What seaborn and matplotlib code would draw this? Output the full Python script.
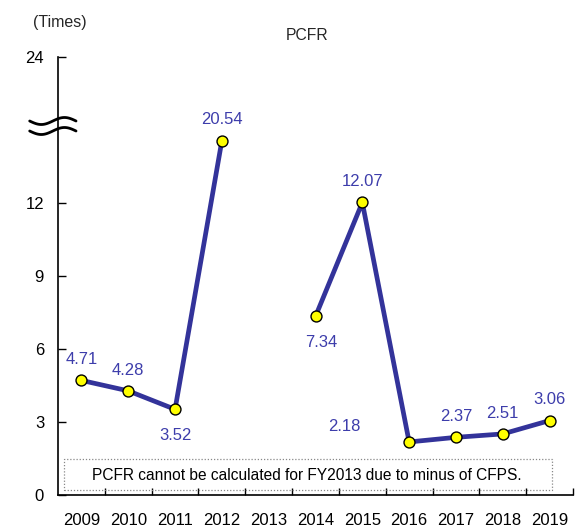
import numpy as np
import pandas as pd
import matplotlib
matplotlib.use("Agg")
import matplotlib.pyplot as plt
import seaborn as sns

years = ["2009", "2010", "2011", "2012", "2013", "2014", "2015", "2016", "2017", "2018", "2019"]
pcfr = [4.71, 4.28, 3.52, 20.54, np.nan, 7.34, 12.07, 2.18, 2.37, 2.51, 3.06]
y_ticks = [0, 3, 6, 9, 12, 24]
note = "PCFR cannot be calculated for FY2013 due to minus of CFPS."

# label offsets in points (dx, dy)
label_offsets = {
    "2009": (0, 15), "2010": (0, 15), "2011": (0, -19), "2012": (0, 15),
    "2014": (4, -19), "2015": (0, 15), "2016": (-47, 11), "2017": (0, 15),
    "2018": (0, 15), "2019": (0, 15),
}

sns.set_theme(style="white")
plt.rcParams["font.family"] = ["Liberation Sans", "DejaVu Sans"]

LINE = "#33339a"
TEXT = "#3d3dab"

# compressed upper segment of the value axis (broken axis above 12)
knots_real = [0, 12, 22, 24]
knots_disp = [0, 12, 15, 18]

def fwd(v):
    return np.interp(np.asarray(v, dtype=float), knots_real, knots_disp)

def inv(d):
    return np.interp(np.asarray(d, dtype=float), knots_disp, knots_real)

df = pd.DataFrame({"year": years, "pos": np.arange(len(years)), "val": pcfr})
df["seg"] = np.cumsum(df["val"].isna().astype(int)).astype(str)
valid = df.dropna()

fig = plt.figure(figsize=(5.75, 5.3), dpi=100)
ax = fig.add_axes([58 / 575, 1 - 495 / 530, (573 - 58) / 575, (495 - 57) / 530])
ax.set_yscale("function", functions=(fwd, inv))

sns.lineplot(data=valid, x="pos", y="val", hue="seg", palette=[LINE] * valid["seg"].nunique(),
             linewidth=3.4, legend=False, ax=ax, estimator=None, sort=False)
sns.scatterplot(data=valid, x="pos", y="val", color="#ffff00", edgecolor="black",
                linewidth=1.0, s=62, zorder=5, ax=ax, legend=False)

for _, r in valid.iterrows():
    dx, dy = label_offsets[r["year"]]
    ax.annotate(f"{r['val']:.2f}", (r["pos"], r["val"]), xytext=(dx, dy),
                textcoords="offset points", ha="center", va="center",
                color=TEXT, fontsize=12)

ax.set_xlim(-0.5, len(years) - 0.5)
ax.set_ylim(0, 24)
ax.set_yticks(y_ticks)
ax.set_yticklabels([str(t) for t in y_ticks])
ax.set_xticks(np.arange(len(years)))
ax.set_xticklabels(years)
ax.set_xticks(np.arange(len(years)) + 0.5, minor=True)
ax.tick_params(axis="x", which="major", length=0, pad=13, labelsize=12, colors="black")
ax.tick_params(axis="x", which="minor", length=5, direction="in", width=1, color="black", bottom=True)
ax.tick_params(axis="y", which="major", length=6, direction="in", width=1, left=True,
               labelsize=12, pad=10, colors="black")
ax.tick_params(axis="y", which="minor", length=0)
ax.set_xlabel("")
ax.set_ylabel("")
for s in ["top", "right"]:
    ax.spines[s].set_visible(False)
for s in ["left", "bottom"]:
    ax.spines[s].set_color("black")
    ax.spines[s].set_linewidth(1.2)

# axis-break mark on the value axis
trans = ax.transAxes
xs = np.linspace(-0.055, 0.035, 60)
for yc in [1 - (121 - 57) / 438, 1 - (131 - 57) / 438]:
    ys = yc + 0.008 * np.sin((xs - xs[0]) / (xs[-1] - xs[0]) * 2 * np.pi + np.pi)
    ax.plot(xs, ys, color="black", lw=2.0, transform=trans, clip_on=False, zorder=6)

# note box
ax.add_patch(plt.Rectangle((-0.37, 0.2), 10.42, 1.3, transform=ax.transData,
                           fill=False, ec="#888888", lw=0.9, ls=(0, (1, 1.5)), zorder=1))
ax.text(4.82, 0.8, note, ha="center", va="center", fontsize=11.2, color="black")

fig.text(307 / 575, 1 - 35 / 530, "PCFR", ha="center", va="center", fontsize=11.3)
fig.text(60 / 575, 1 - 22 / 530, "(Times)", ha="center", va="center", fontsize=11.5)

fig.savefig("out.png", dpi=100)
